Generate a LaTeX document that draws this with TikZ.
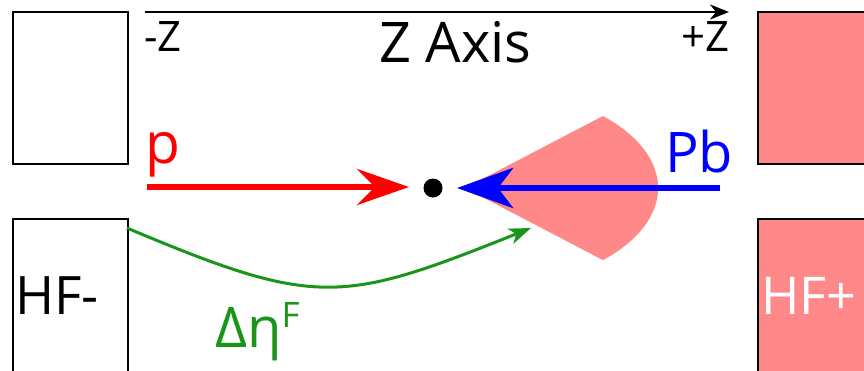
\documentclass[tikz,border=0pt]{standalone}
\usepackage{fontspec}
\setmainfont{Open Sans}
\usetikzlibrary{arrows.meta}
\definecolor{salmon}{RGB}{255,136,136}
\definecolor{pred}{RGB}{255,0,0}
\definecolor{pblue}{RGB}{0,0,255}
\definecolor{pgreen}{RGB}{25,150,25}
\tikzset{
  detbox/.style={draw=black, line width=2pt, inner sep=0pt, anchor=north west},
  lbl/.style={inner sep=0pt, anchor=base west},
  beam/.style={line width=6.5pt},
}
\newcommand{\fs}[1]{\fontsize{#1}{#1}\selectfont}
\begin{document}
\begin{tikzpicture}[x=1pt,y=-1pt]
\useasboundingbox (0,0) rectangle (864,370);
\clip (0,0) rectangle (864,370);
% wedge
\fill[salmon] (465,188) -- (603,116) arc[start angle=-44.4, end angle=44.4, x radius=193, y radius=103] -- cycle;
% detector boxes
\node[detbox, minimum width=115pt, minimum height=152pt] (hfmt) at (12,11) {};
\node[detbox, minimum width=115pt, minimum height=170pt] (hfmb) at (12,218) {};
\node[detbox, fill=salmon, minimum width=130pt, minimum height=152pt] (hfpt) at (757,11) {};
\node[detbox, fill=salmon, minimum width=130pt, minimum height=170pt] (hfpb) at (757,218) {};
% axis
\coordinate (ax0) at (145,12);
\coordinate (ax1) at (729,12);
\draw[line width=2.5pt, -{Stealth[length=19pt, width=15pt, inset=6pt]}] (ax0) -- (ax1);
\node[lbl] (mz) at (144,51) {\fs{42}-Z};
\node[lbl] (pz) at (681,51) {\fs{42}+Z};
\node[lbl] (zax) at (379,62) {\fs{56}Z Axis};
% collision point
\node[circle, fill=black, minimum size=19pt, inner sep=0pt] (ip) at (433,188) {};
% beams
\coordinate (ps) at (147,187);
\coordinate (pt) at (409,187);
\draw[beam, pred, -{Stealth[length=52pt, width=36pt, inset=18pt]}] (ps) -- (pt);
\coordinate (bs) at (720,188);
\coordinate (bt) at (457,188);
\draw[beam, pblue, -{Stealth[length=56pt, width=40pt, inset=15pt]}] (bs) -- (bt);
\node[lbl, text=pred] (plab) at (145,163) {\fs{57}p};
\node[lbl, text=pblue] (pblab) at (665,172) {\fs{56}Pb};
% green rapidity gap arrow
\coordinate (gs) at (127,228);
\coordinate (ge) at (531,228);
\draw[pgreen, line width=3pt, -{Stealth[length=22pt, width=16pt, inset=6pt]}] (gs) .. controls (317,308) and (341,304) .. (ge);
\node[lbl, text=pgreen] (deta) at (215,347) {\fs{56}Δη\raisebox{20pt}{\fs{35}F}};
% labels
\node[lbl] (hfm) at (15,314) {\fs{53}HF-};
\node[lbl, text=white] (hfp) at (761,314) {\fs{52}HF+};
\end{tikzpicture}
\end{document}
